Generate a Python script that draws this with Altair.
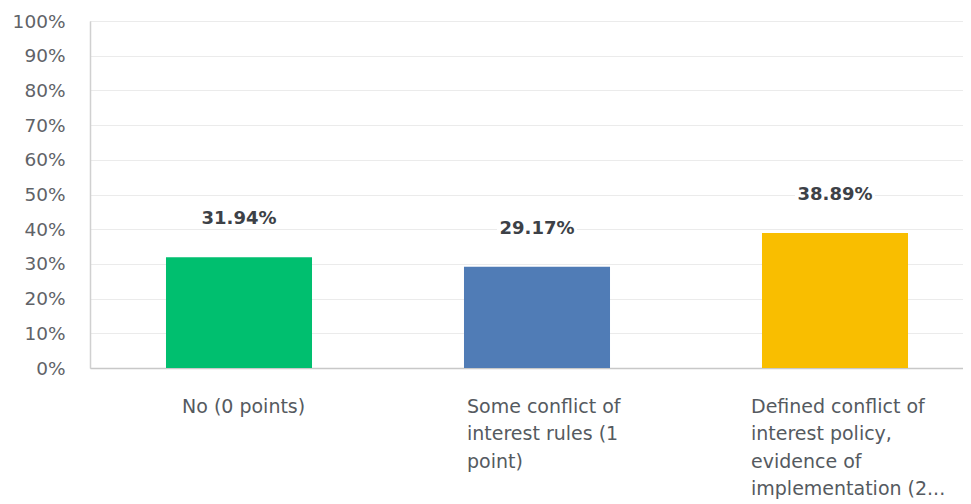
import altair as alt
import pandas as pd

categories = ["No (0 points)", "Some conflict of interest rules (1 point)",
              "Defined conflict of interest policy, evidence of implementation (2 points)"]
values = [31.94, 29.17, 38.89]
value_labels = ["31.94%", "29.17%", "38.89%"]
axis_lines = [["No (0 points)"],
              ["Some conflict of", "interest rules (1", "point)"],
              ["Defined conflict of", "interest policy,", "evidence of", "implementation (2..."]]
y_ticks = [0, 10, 20, 30, 40, 50, 60, 70, 80, 90, 100]
colors = ["#00bf6f", "#507cb6", "#f9be00"]

df = pd.DataFrame({"cat": categories, "val": values, "lab": value_labels,
                   "color": colors})

font = "DejaVu Sans"


def js_list(lines):
    return "[" + ",".join("'%s'" % s for s in lines) + "]"


lbl_expr = "datum.value == '%s' ? %s : datum.value == '%s' ? %s : %s" % (
    categories[0], js_list(axis_lines[0]),
    categories[1], js_list(axis_lines[1]),
    js_list(axis_lines[2]))

x = alt.X("cat:N", sort=categories, title=None,
          scale=alt.Scale(range=[0, 894], paddingInner=0.51, paddingOuter=0.255),
          axis=alt.Axis(labelAngle=0, labelExpr=lbl_expr, labelAlign="left",
                        labelBaseline="top", labelPadding=29, labelLineHeight=27.5,
                        labelFont=font, labelFontSize=19, labelColor="#555a60",
                        labelOffset=alt.ConditionalAxisNumber(
                            condition=[{"test": "datum.value == '%s'" % categories[0], "value": -57},
                                       {"test": "datum.value == '%s'" % categories[1], "value": -70}],
                            value=-84),
                        ticks=False, domainColor="#c8c8c8", domainWidth=1.5, grid=False,
                        labelLimit=400, labelOverlap=False))
y = alt.Y("val:Q", title=None,
          scale=alt.Scale(domain=[0, 100]),
          axis=alt.Axis(values=y_ticks, tickCount=11, labelExpr="datum.value + '%'",
                        ticks=False, labelPadding=25, labelFont=font, labelFontSize=18.5,
                        labelColor="#5f6368", domainColor="#d0d0d0", domainWidth=1.5,
                        gridColor="#ebebeb", gridWidth=1, labelOverlap=False))

base = alt.Chart(df)
bars = base.mark_bar().encode(x=x, y=y, color=alt.Color("color:N", scale=None))
boxes = base.mark_point(shape="M-1,-1.26L1,-1.26L1,-0.74L-1,-0.74Z", size=6400,
                        filled=True, fill="white", opacity=1, strokeWidth=0).encode(
    x=x, y=y)
texts = base.mark_text(dy=-38, baseline="middle", font=font, fontSize=18,
                       fontWeight="bold", color="#3d4147").encode(
    x=x, y=y, text="lab:N")

chart = alt.layer(bars, boxes, texts).properties(
    width=873, height=347,
    autosize=alt.AutoSizeParams(type="none"),
    padding={"left": 82, "top": 13, "right": 0, "bottom": 136},
).configure_view(stroke=None).configure(background="white")

chart.save("out.html", embed_options={"renderer": "svg", "actions": False})
